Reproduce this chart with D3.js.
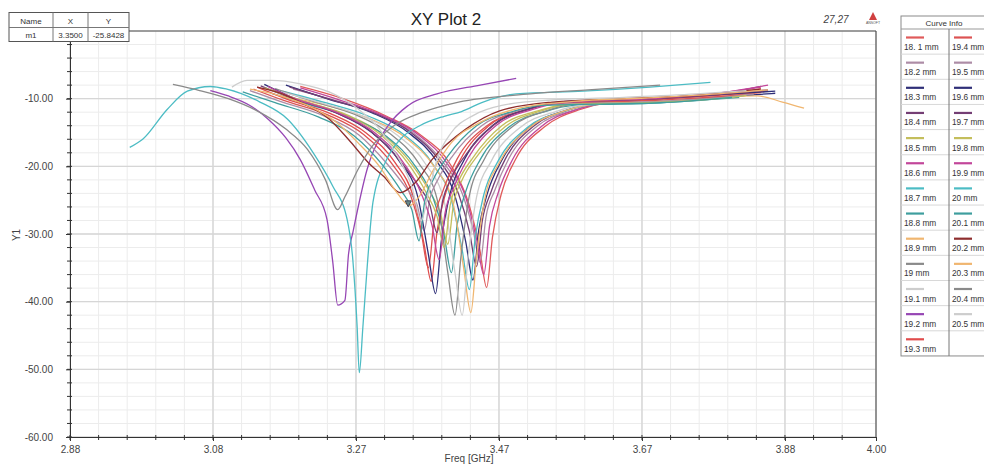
<!DOCTYPE html>
<html>
<head>
<meta charset="utf-8">
<script src="https://cdn.jsdelivr.net/npm/d3@7"></script>
<style>
  body { margin: 0; background: #fff; }
  svg { font-family: 'Liberation Sans', Arial, sans-serif; }
</style>
</head>
<body>
<script>
// axis ticks (HFSS style labels)
var xTickValues = [2.88, 3.0787, 3.2774, 3.4761, 3.6748, 3.8735, 4.00];
var xTickLabels = ['2.88', '3.08', '3.27', '3.47', '3.67', '3.88', '4.00'];
var yTickValues = [-60, -50, -40, -30, -20, -10];
var yTickLabels = ['-60.00', '-50.00', '-40.00', '-30.00', '-20.00', '-10.00'];

// marker
var markerName = 'm1', markerX = 3.35, markerY = -25.8428;

// curve names + colours
var curveNames = ['18. 1 mm', '18.2 mm', '18.3 mm', '18.4 mm', '18.5 mm', '18.6 mm', '18.7 mm',
  '18.8 mm', '18.9 mm', '19 mm', '19.1 mm', '19.2 mm', '19.3 mm', '19.4 mm', '19.5 mm',
  '19.6 mm', '19.7 mm', '19.8 mm', '19.9 mm', '20 mm', '20.1 mm', '20.2 mm', '20.3 mm',
  '20.4 mm', '20.5 mm'];
var curveColors = ['#e05a5a', '#ad8ca6', '#2f2f78', '#743e74', '#c4be5c', '#c2469a', '#4cbcc4',
  '#3e9e9e', '#f0b670', '#8a8a8a', '#cdcdcd', '#9646b4', '#e04c4c', '#dc5252', '#ad8ca6',
  '#2f2f78', '#743e74', '#c4be5c', '#c2469a', '#4cbcc4', '#3e9e9e', '#8e2e2e', '#f0b670',
  '#8a8a8a', '#cdcdcd'];

// [freq GHz, dB]
var c18_1 = [[3.20,-8.2],[3.259,-10.0],[3.32,-12.6],[3.369,-15.5],[3.409,-19.8],[3.434,-25.5],[3.449,-32.0],[3.459,-37.9],[3.467,-30.5],[3.479,-24.2],[3.499,-19.0],[3.539,-14.2],[3.589,-11.6],[3.629,-10.6],[3.70,-10.1],[3.78,-9.5],[3.84,-8.5]];
var c18_2 = [[3.19,-8.6],[3.25,-10.3],[3.31,-12.4],[3.36,-15.3],[3.40,-19.6],[3.425,-24.0],[3.44,-29.3],[3.45,-34.2],[3.458,-27.5],[3.47,-23.6],[3.49,-18.8],[3.53,-14.0],[3.58,-11.7],[3.62,-10.7],[3.70,-10.2],[3.78,-9.6],[3.85,-8.8]];
var c18_3 = [[3.18,-8.0],[3.24,-10.1],[3.30,-12.1],[3.35,-15.0],[3.39,-19.3],[3.415,-24.4],[3.43,-31.2],[3.44,-36.8],[3.448,-29.4],[3.46,-24.0],[3.48,-19.1],[3.52,-14.1],[3.57,-11.7],[3.61,-10.7],[3.70,-10.3],[3.78,-9.8],[3.86,-9.2]];
var c18_4 = [[3.185,-8.3],[3.245,-10.2],[3.305,-12.2],[3.355,-15.1],[3.395,-19.4],[3.42,-24.1],[3.435,-29.6],[3.445,-34.8],[3.453,-28.0],[3.465,-23.8],[3.485,-18.9],[3.525,-14.0],[3.575,-11.6],[3.615,-10.6],[3.70,-10.0],[3.78,-9.4],[3.84,-8.2]];
var c18_5 = [[3.16,-8.7],[3.205,-10.4],[3.265,-12.4],[3.315,-15.3],[3.355,-19.7],[3.38,-23.8],[3.395,-27.0],[3.405,-31.5],[3.413,-25.5],[3.425,-22.0],[3.445,-18.6],[3.485,-14.1],[3.535,-11.8],[3.575,-10.8],[3.70,-10.3],[3.78,-9.8],[3.83,-9.0]];
var c18_6 = [[3.20,-8.4],[3.255,-10.2],[3.315,-12.5],[3.365,-15.4],[3.405,-19.7],[3.43,-24.6],[3.445,-30.8],[3.455,-36.0],[3.463,-28.8],[3.475,-23.9],[3.495,-19.0],[3.535,-14.1],[3.585,-11.6],[3.625,-10.6],[3.70,-9.9],[3.78,-9.2],[3.85,-8.0]];
var c18_7 = [[3.175,-8.9],[3.235,-10.6],[3.295,-12.6],[3.345,-15.4],[3.385,-19.8],[3.41,-25.0],[3.425,-32.4],[3.435,-38.2],[3.443,-30.6],[3.455,-24.2],[3.475,-19.2],[3.515,-14.3],[3.565,-11.9],[3.605,-10.9],[3.70,-10.5],[3.79,-9.6]];
var c18_8 = [[3.16,-9.2],[3.21,-10.8],[3.27,-12.8],[3.32,-15.6],[3.36,-20.0],[3.385,-24.8],[3.40,-30.3],[3.41,-35.7],[3.418,-28.6],[3.43,-23.7],[3.45,-19.0],[3.49,-14.2],[3.54,-11.9],[3.58,-11.0],[3.70,-10.6],[3.81,-9.8]];
var c18_9 = [[3.17,-9.5],[3.237,-11.0],[3.297,-13.0],[3.347,-15.8],[3.387,-20.2],[3.412,-25.3],[3.427,-35.0],[3.437,-41.6],[3.445,-33.3],[3.457,-24.5],[3.477,-19.4],[3.517,-14.4],[3.567,-11.8],[3.607,-10.8],[3.70,-10.2],[3.78,-9.7],[3.835,-9.6],[3.87,-10.5],[3.90,-11.4]];
var c19_0 = [[3.165,-8.5],[3.215,-10.3],[3.275,-12.3],[3.325,-15.2],[3.365,-19.6],[3.39,-24.8],[3.405,-35.7],[3.415,-42.0],[3.423,-33.6],[3.435,-24.3],[3.455,-19.1],[3.495,-14.1],[3.545,-11.7],[3.585,-10.7],[3.70,-10.2],[3.78,-9.8],[3.83,-9.4]];
var c19_1 = [[3.17,-8.9],[3.225,-10.5],[3.285,-12.5],[3.335,-15.4],[3.375,-19.8],[3.40,-25.2],[3.415,-35.7],[3.425,-42.0],[3.433,-33.6],[3.445,-24.5],[3.465,-19.3],[3.505,-14.3],[3.555,-11.9],[3.595,-10.9],[3.70,-10.3],[3.78,-9.6],[3.84,-9.0]];
var c19_2 = [[3.075,-8.8],[3.10,-9.6],[3.13,-11.0],[3.155,-13.0],[3.18,-15.8],[3.20,-19.0],[3.22,-23.5],[3.237,-27.8],[3.245,-34.0],[3.252,-40.5],[3.262,-39.8],[3.267,-33.0],[3.273,-29.8],[3.293,-20.4],[3.322,-14.0],[3.35,-11.0],[3.39,-9.3],[3.45,-8.0],[3.50,-7.0]];
var c19_3 = [[3.14,-8.3],[3.182,-10.1],[3.242,-12.2],[3.292,-15.1],[3.332,-19.5],[3.357,-24.5],[3.372,-31.5],[3.382,-37.0],[3.39,-29.6],[3.402,-24.0],[3.422,-19.1],[3.462,-14.0],[3.512,-11.7],[3.552,-10.7],[3.70,-10.0],[3.78,-9.5],[3.85,-8.9]];
var c19_4 = [[3.135,-8.6],[3.178,-10.3],[3.238,-12.4],[3.288,-15.3],[3.328,-19.7],[3.353,-24.2],[3.368,-29.8],[3.378,-35.0],[3.386,-28.0],[3.398,-23.7],[3.418,-18.9],[3.458,-14.1],[3.508,-11.8],[3.548,-10.8],[3.70,-10.2],[3.78,-9.7],[3.84,-9.1]];
var c19_5 = [[3.13,-8.8],[3.172,-10.4],[3.232,-12.5],[3.282,-15.4],[3.322,-19.8],[3.347,-23.2],[3.362,-25.6],[3.372,-29.5],[3.38,-24.8],[3.392,-21.8],[3.412,-18.4],[3.452,-14.0],[3.502,-11.8],[3.542,-10.9],[3.70,-10.4],[3.78,-9.9],[3.83,-9.3]];
var c19_6 = [[3.15,-7.9],[3.188,-9.8],[3.248,-12.0],[3.298,-14.9],[3.338,-19.3],[3.363,-24.4],[3.378,-33.0],[3.388,-38.8],[3.396,-31.0],[3.408,-24.1],[3.428,-19.0],[3.468,-13.9],[3.518,-11.5],[3.558,-10.5],[3.70,-9.9],[3.78,-9.4],[3.86,-8.9]];
var c19_7 = [[3.145,-8.1],[3.19,-10.0],[3.25,-12.1],[3.30,-15.0],[3.34,-19.4],[3.365,-23.0],[3.38,-25.7],[3.39,-29.8],[3.398,-25.0],[3.41,-21.7],[3.43,-18.3],[3.47,-13.8],[3.52,-11.5],[3.56,-10.6],[3.70,-10.0],[3.78,-9.4],[3.85,-8.7]];
var c19_8 = [[3.15,-8.4],[3.20,-10.2],[3.26,-12.3],[3.31,-15.2],[3.35,-19.6],[3.375,-23.9],[3.39,-27.4],[3.40,-32.0],[3.408,-25.9],[3.42,-22.2],[3.44,-18.7],[3.48,-14.0],[3.53,-11.8],[3.57,-10.9],[3.70,-10.5],[3.78,-10.0],[3.82,-9.5]];
var c19_9 = [[3.155,-8.2],[3.193,-10.0],[3.253,-12.1],[3.303,-15.0],[3.343,-19.4],[3.368,-24.0],[3.383,-28.7],[3.393,-33.8],[3.401,-27.0],[3.413,-23.2],[3.433,-18.8],[3.473,-13.9],[3.523,-11.6],[3.563,-10.6],[3.70,-9.9],[3.78,-9.2],[3.84,-8.3]];
var c20_0 = [[2.963,-17.2],[2.981,-16.0],[3.015,-11.6],[3.043,-8.9],[3.075,-8.2],[3.098,-8.6],[3.144,-10.5],[3.182,-13.0],[3.218,-18.0],[3.245,-22.9],[3.265,-27.8],[3.273,-33.8],[3.279,-43.7],[3.282,-50.5],[3.287,-43.7],[3.293,-34.8],[3.301,-25.3],[3.32,-19.0],[3.339,-16.0],[3.366,-14.0],[3.40,-12.6],[3.424,-11.9],[3.454,-10.5],[3.50,-9.3],[3.593,-8.9],[3.686,-8.3],[3.77,-7.6]];
var c20_1 = [[3.12,-9.0],[3.165,-10.6],[3.225,-12.7],[3.275,-15.5],[3.315,-19.9],[3.34,-23.6],[3.355,-26.4],[3.365,-31.0],[3.373,-25.1],[3.385,-21.9],[3.405,-18.5],[3.445,-14.0],[3.495,-11.9],[3.535,-11.0],[3.70,-10.6],[3.80,-9.8]];
var c20_2 = [[3.14,-8.3],[3.18,-9.5],[3.20,-10.5],[3.24,-13.0],[3.27,-16.4],[3.295,-19.5],[3.316,-21.5],[3.339,-23.9],[3.36,-22.4],[3.383,-19.0],[3.43,-14.5],[3.477,-11.8],[3.55,-10.5],[3.65,-10.0],[3.75,-9.5],[3.84,-8.6]];
var c20_3 = [[3.13,-8.6],[3.17,-9.5],[3.21,-11.0],[3.25,-13.5],[3.28,-16.5],[3.31,-20.0],[3.335,-24.0],[3.352,-25.8],[3.365,-24.5],[3.385,-20.5],[3.41,-16.5],[3.45,-13.5],[3.50,-11.5],[3.58,-10.4],[3.68,-9.9],[3.78,-9.3],[3.85,-8.7]];
var c20_4 = [[3.023,-7.9],[3.06,-8.8],[3.10,-10.0],[3.14,-11.8],[3.18,-14.5],[3.21,-17.5],[3.235,-22.0],[3.252,-26.4],[3.262,-24.5],[3.28,-20.5],[3.30,-17.0],[3.33,-14.0],[3.37,-12.0],[3.42,-10.5],[3.52,-9.3],[3.60,-8.7],[3.70,-8.0]];
var c20_5 = [[3.105,-8.3],[3.126,-7.3],[3.16,-7.3],[3.20,-7.8],[3.24,-9.0],[3.28,-11.5],[3.31,-14.5],[3.335,-18.5],[3.355,-23.0],[3.368,-28.0],[3.378,-24.0],[3.39,-19.0],[3.41,-15.0],[3.44,-12.5],[3.48,-11.0],[3.55,-10.2],[3.65,-9.8],[3.75,-9.3],[3.82,-8.8]];

var curveValues = [c18_1, c18_2, c18_3, c18_4, c18_5, c18_6, c18_7, c18_8, c18_9, c19_0,
  c19_1, c19_2, c19_3, c19_4, c19_5, c19_6, c19_7, c19_8, c19_9, c20_0, c20_1, c20_2,
  c20_3, c20_4, c20_5];

var series = curveNames.map(function(n, i) {
  return {name: n, color: curveColors[i], values: curveValues[i]};
});

var width = 984, height = 464;
var plot = {left: 70, right: 876, top: 31, bottom: 437};

var xScale = d3.scaleLinear().domain([2.88, 4.00]).range([plot.left, plot.right]),
    yScale = d3.scaleLinear().domain([-60, 0]).range([plot.bottom, plot.top]);

var xStep = (xTickValues[1] - xTickValues[0]) / 5;
var xMinor = d3.range(xTickValues[0], 3.98, xStep),
    yMinor = d3.range(-60, 0.1, 2);

var svg = d3.select('body').append('svg')
    .attr('width', width)
    .attr('height', height);

// grid
var grid = svg.append('g');
grid.selectAll('.xminor')
    .data(xMinor)
  .enter().append('line')
    .attr('x1', function(d) { return xScale(d); })
    .attr('x2', function(d) { return xScale(d); })
    .attr('y1', plot.top).attr('y2', plot.bottom)
    .style('stroke', '#ececec');
grid.selectAll('.yminor')
    .data(yMinor)
  .enter().append('line')
    .attr('y1', function(d) { return yScale(d); })
    .attr('y2', function(d) { return yScale(d); })
    .attr('x1', plot.left).attr('x2', plot.right)
    .style('stroke', '#ececec');
grid.selectAll('.xmajor')
    .data(xTickValues)
  .enter().append('line')
    .attr('x1', function(d) { return xScale(d); })
    .attr('x2', function(d) { return xScale(d); })
    .attr('y1', plot.top).attr('y2', plot.bottom)
    .style('stroke', '#d6d6d6').style('stroke-width', 1.4);
grid.selectAll('.ymajor')
    .data(yTickValues)
  .enter().append('line')
    .attr('y1', function(d) { return yScale(d); })
    .attr('y2', function(d) { return yScale(d); })
    .attr('x1', plot.left).attr('x2', plot.right)
    .style('stroke', '#d6d6d6').style('stroke-width', 1.4);

// curves
svg.append('clipPath').attr('id', 'clip')
  .append('rect')
    .attr('x', plot.left).attr('y', plot.top)
    .attr('width', plot.right - plot.left).attr('height', plot.bottom - plot.top);

var line = d3.line()
    .x(function(d) { return xScale(d[0]); })
    .y(function(d) { return yScale(d[1]); })
    .curve(d3.curveMonotoneX);

svg.append('g').attr('clip-path', 'url(#clip)')
    .selectAll('.curve')
    .data(series)
  .enter().append('path')
    .attr('class', 'curve')
    .attr('d', function(d) { return line(d.values); })
    .style('fill', 'none')
    .style('stroke', function(d) { return d.color; })
    .style('stroke-width', 1.3);

// marker
svg.append('path')
    .attr('d', 'M' + (xScale(markerX) - 3) + ',' + (yScale(markerY) - 5) + 'l6,0l-3,6z')
    .style('fill', '#6a8a8a')
    .style('stroke', '#445');

// axes
var xAxis = d3.axisBottom(xScale).tickValues(xTickValues).tickSize(4)
    .tickFormat(function(d, i) { return xTickLabels[i]; });
var yAxis = d3.axisLeft(yScale).tickValues(yTickValues).tickSize(4)
    .tickFormat(function(d, i) { return yTickLabels[i]; });

var gx = svg.append('g')
    .attr('transform', 'translate(0,' + plot.bottom + ')')
    .call(xAxis);
gx.append('g').selectAll('line')
    .data(xMinor)
  .enter().append('line')
    .attr('x1', function(d) { return xScale(d); })
    .attr('x2', function(d) { return xScale(d); })
    .attr('y1', -2).attr('y2', 3)
    .style('stroke', '#333');

var gy = svg.append('g')
    .attr('transform', 'translate(' + plot.left + ',0)')
    .call(yAxis);
gy.append('g').selectAll('line')
    .data(yMinor)
  .enter().append('line')
    .attr('y1', function(d) { return yScale(d); })
    .attr('y2', function(d) { return yScale(d); })
    .attr('x1', -3).attr('x2', 2)
    .style('stroke', '#333');

[gx, gy].forEach(function(g) {
  g.select('.domain').style('stroke', '#333');
  g.selectAll('.tick line').style('stroke', '#333');
  g.selectAll('.tick text')
      .style('font-size', '10px')
      .style('fill', '#444');
});
gx.selectAll('.tick text').attr('y', 9);
gy.selectAll('.tick text').attr('x', -17);

// frame top + right
svg.append('line')
    .attr('x1', plot.left).attr('x2', plot.right)
    .attr('y1', plot.top).attr('y2', plot.top)
    .style('stroke', '#444');
svg.append('line')
    .attr('x1', plot.right).attr('x2', plot.right)
    .attr('y1', plot.top).attr('y2', plot.bottom)
    .style('stroke', '#444');

// titles
svg.append('text')
    .attr('x', 446).attr('y', 25)
    .style('text-anchor', 'middle')
    .style('font-size', '17px')
    .style('fill', '#222')
    .text('XY Plot 2');

svg.append('text')
    .attr('x', 469).attr('y', 462)
    .style('text-anchor', 'middle')
    .style('font-size', '10px')
    .style('fill', '#444')
    .text('Freq [GHz]');

svg.append('text')
    .attr('transform', 'translate(20,235) rotate(-90)')
    .style('text-anchor', 'middle')
    .style('font-size', '10px')
    .style('fill', '#444')
    .text('Y1');

svg.append('text')
    .attr('x', 836).attr('y', 23)
    .style('text-anchor', 'middle')
    .style('font-size', '10px')
    .style('font-style', 'italic')
    .style('fill', '#444')
    .text('27,27');

// ansoft logo
svg.append('path')
    .attr('d', 'M873,12l4,8l-8,0z')
    .style('fill', '#d04040');
svg.append('text')
    .attr('x', 873).attr('y', 24)
    .style('text-anchor', 'middle')
    .style('font-size', '3.5px')
    .style('fill', '#555')
    .text('ANSOFT');

// marker table
var mt = svg.append('g');
mt.append('rect')
    .attr('x', 9).attr('y', 12.5).attr('width', 120).attr('height', 29)
    .style('fill', '#fff').style('stroke', '#555');
mt.append('line').attr('x1', 9).attr('x2', 129).attr('y1', 27.5).attr('y2', 27.5).style('stroke', '#777');
[53, 88].forEach(function(cx) {
  mt.append('line').attr('x1', cx).attr('x2', cx).attr('y1', 12.5).attr('y2', 41.5).style('stroke', '#777');
});
var mtCols = [31, 70.5, 108.5];
var mtHead = ['Name', 'X', 'Y'],
    mtRow = [markerName, markerX.toFixed(4), markerY.toFixed(4)];
mtHead.forEach(function(t, i) {
  mt.append('text').attr('x', mtCols[i]).attr('y', 23.5)
      .style('text-anchor', 'middle').style('font-size', '8px').style('fill', '#333').text(t);
});
mtRow.forEach(function(t, i) {
  mt.append('text').attr('x', mtCols[i]).attr('y', 37.5)
      .style('text-anchor', 'middle').style('font-size', '8px').style('fill', '#333').text(t);
});

// curve info legend
var lg = svg.append('g');
var lgLeft = 901, lgTop = 16, lgHead = 29, rowH = 25.15, nRows = 13;
lg.append('rect')
    .attr('x', lgLeft).attr('y', lgTop)
    .attr('width', 110).attr('height', lgHead - lgTop + rowH * nRows)
    .style('fill', '#fff').style('stroke', '#8a8a8a');
lg.append('text')
    .attr('x', 944).attr('y', 26)
    .style('text-anchor', 'middle').style('font-size', '8px').style('fill', '#333')
    .text('Curve Info');
lg.selectAll('.sep')
    .data(d3.range(nRows))
  .enter().append('line')
    .attr('x1', lgLeft).attr('x2', lgLeft + 110)
    .attr('y1', function(d) { return lgHead + d * rowH; })
    .attr('y2', function(d) { return lgHead + d * rowH; })
    .style('stroke', function(d) { return d === 0 ? '#999' : '#d8d8d8'; });
lg.append('line')
    .attr('x1', 949).attr('x2', 949)
    .attr('y1', lgHead).attr('y2', lgHead + rowH * nRows)
    .style('stroke', '#777');

var item = lg.selectAll('.item')
    .data(series)
  .enter().append('g')
    .attr('class', 'item')
    .attr('transform', function(d, i) {
      var col = i < nRows ? 0 : 1, row = i < nRows ? i : i - nRows;
      return 'translate(' + (col === 0 ? 904 : 952) + ',' + (lgHead + row * rowH) + ')';
    });
item.append('line')
    .attr('x1', 2).attr('x2', 20)
    .attr('y1', 8.5).attr('y2', 8.5)
    .style('stroke', function(d) { return d.color; })
    .style('stroke-width', 2.2);
item.append('text')
    .attr('x', 0).attr('y', 21)
    .style('font-size', '8.3px').style('fill', '#333')
    .text(function(d) { return d.name; });
</script>
</body>
</html>
